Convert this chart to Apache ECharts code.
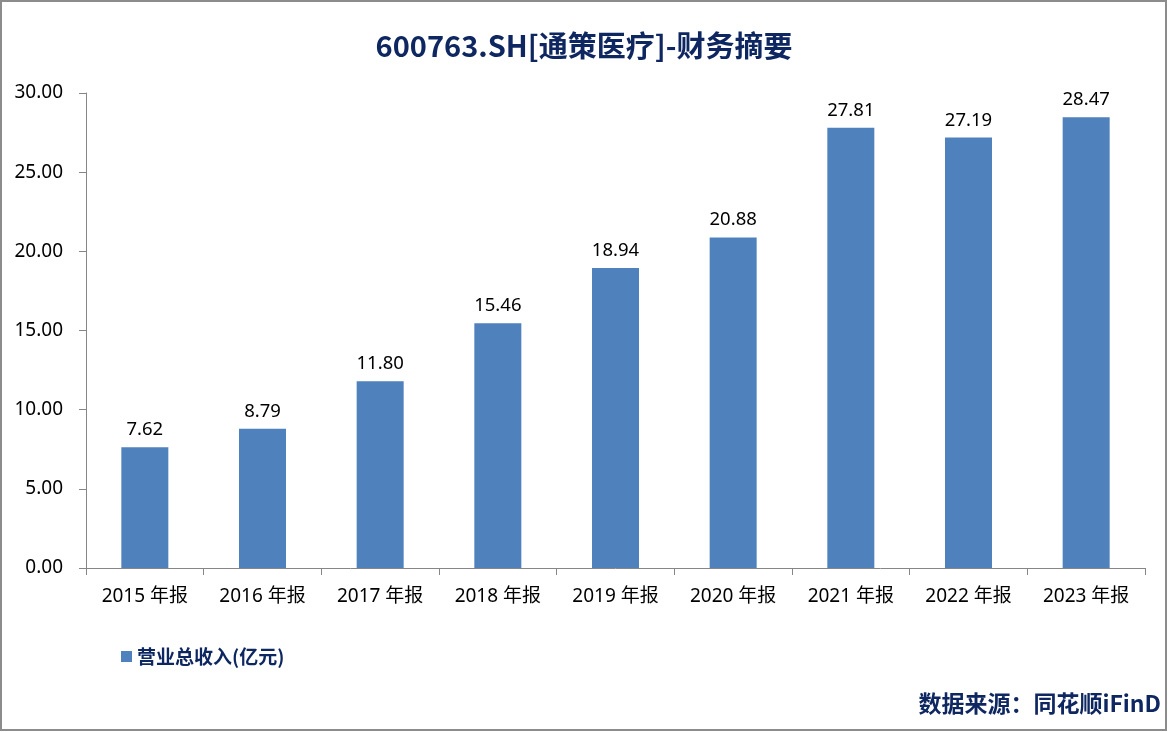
<!DOCTYPE html>
<html><head><meta charset="utf-8">
<script src="https://cdn.jsdelivr.net/npm/echarts@6/dist/echarts.min.js"></script>
<style>html,body{margin:0;padding:0;background:#fff}#c{width:1168px;height:732px}</style>
</head><body><div id="c"></div>
<script>
const categories = ['2015年报','2016年报','2017年报','2018年报','2019年报','2020年报','2021年报','2022年报','2023年报'];
const revenue = [7.62, 8.79, 11.80, 15.46, 18.94, 20.88, 27.81, 27.19, 28.47];
const seriesName = '营业总收入(亿元)';
const titleText = '600763.SH[通策医疗]-财务摘要';
const sourceText = '数据来源：同花顺iFinD';

const chart = echarts.init(document.getElementById('c'));
const fontCJK = '"Noto Sans CJK SC", "Noto Sans", sans-serif';
const fontLatin = '"Noto Sans", "Noto Sans CJK SC", sans-serif';
const navy = '#0f2760';
chart.setOption({
  animation: false,
  backgroundColor: '#fff',
  title: {
    text: titleText, left: 'center', top: 26,
    textStyle: {fontSize: 29, fontWeight: 'bold', color: navy, fontFamily: fontCJK}
  },
  legend: {
    data: [seriesName], left: 116, top: 642, icon: 'rect', itemWidth: 11, itemHeight: 11, itemGap: 6,
    textStyle: {fontSize: 19, fontWeight: 'bold', color: navy, fontFamily: fontCJK}
  },
  grid: {left: 86, right: 23, top: 93, bottom: 164, containLabel: false},
  xAxis: {
    type: 'category', data: categories,
    axisLine: {lineStyle: {color: '#868686', width: 1}},
    axisTick: {show: true, length: 7, lineStyle: {color: '#868686'}},
    axisLabel: {fontSize: 19, color: '#000', margin: 19, fontFamily: fontLatin,
      formatter: v => v.replace('年', ' 年')}
  },
  yAxis: {
    type: 'value', min: 0, max: 30, interval: 5,
    axisLine: {show: true, lineStyle: {color: '#868686', width: 1}},
    axisTick: {show: true, inside: false, length: 7, lineStyle: {color: '#868686'}},
    splitLine: {show: false},
    axisLabel: {fontSize: 19, color: '#000', margin: 23, formatter: v => v.toFixed(2), fontFamily: fontLatin}
  },
  series: [{
    name: seriesName, type: 'bar', data: revenue, barWidth: 47,
    itemStyle: {color: '#4f81bd'},
    label: {show: true, position: 'top', distance: 8, fontSize: 18.5, color: '#000', formatter: p => p.value.toFixed(2), fontFamily: fontLatin}
  }],
  graphic: [
    {type: 'rect', shape: {x: 1, y: 1, width: 1165, height: 729}, style: {fill: 'none', stroke: '#8c8c8c', lineWidth: 2}, silent: true},
    {type: 'text', right: 7, top: 692, style: {text: sourceText, fontSize: 23, fontWeight: 'bold', fill: navy, fontFamily: fontCJK}}
  ]
});
</script></body></html>
